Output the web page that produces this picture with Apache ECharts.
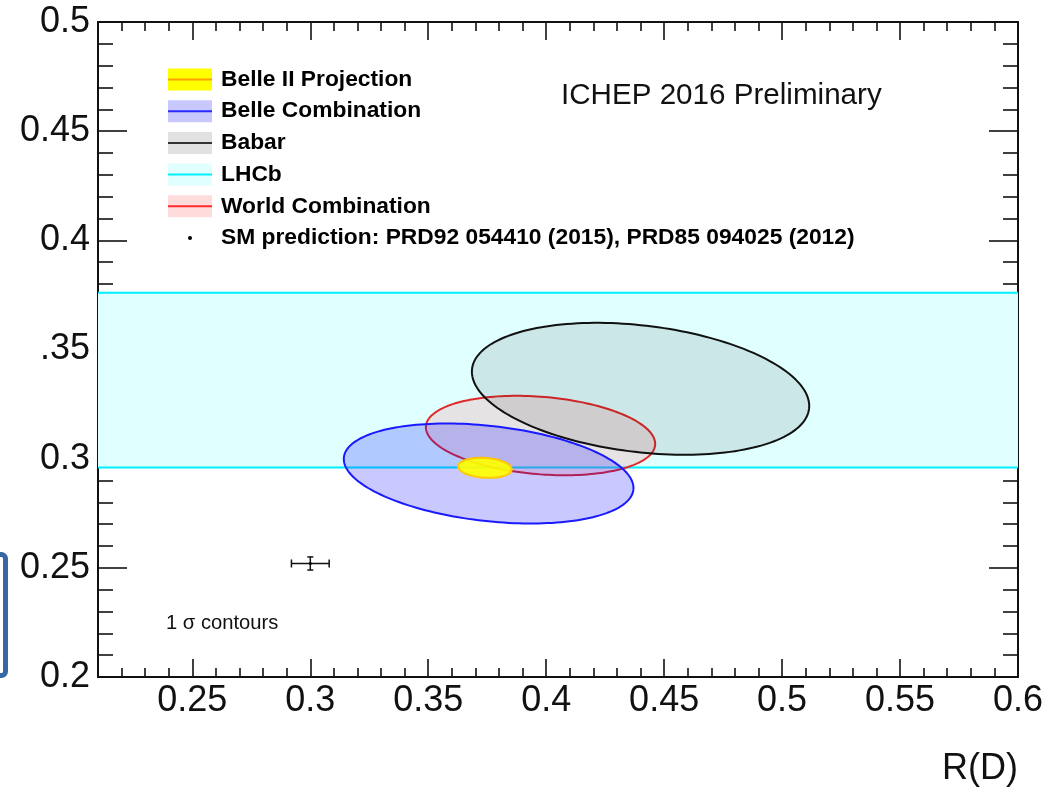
<!DOCTYPE html>
<html>
<head>
<meta charset="utf-8">
<script src="https://cdn.jsdelivr.net/npm/echarts@6/dist/echarts.min.js"></script>
<style>
  html, body { margin: 0; padding: 0; background: #fff; }
  #chart { width: 1046px; height: 792px; }
</style>
</head>
<body>
<div id="chart"></div>
<script>
// Axis ranges and ticks
const xRange = [0.21, 0.6];
const yRange = [0.2, 0.5];
const xMajorTicks = [0.25, 0.3, 0.35, 0.4, 0.45, 0.5, 0.55, 0.6];
const xTickLabels = ['0.25', '0.3', '0.35', '0.4', '0.45', '0.5', '0.55', '0.6'];
const xMinorTicks = [0.21, 0.22, 0.23, 0.24, 0.26, 0.27, 0.28, 0.29, 0.31, 0.32, 0.33, 0.34,
  0.36, 0.37, 0.38, 0.39, 0.41, 0.42, 0.43, 0.44, 0.46, 0.47, 0.48, 0.49,
  0.51, 0.52, 0.53, 0.54, 0.56, 0.57, 0.58, 0.59];
const yMajorTicks = [0.2, 0.25, 0.3, 0.35, 0.4, 0.45, 0.5];
const yTickLabels = ['0.2', '0.25', '0.3', '.35', '0.4', '0.45', '0.5'];

// LHCb R(D*) band: [low, high]
const lhcbBand = [0.296, 0.376];

// 1 sigma contours: [R(D) centre, R(D*) centre, sigma R(D), sigma R(D*), correlation]
const belle2Projection = [0.374, 0.2958, 0.0114, 0.0046, -0.15];
const belleCombination = [0.3756, 0.2932, 0.0614, 0.0229, -0.29];
const babar = [0.440, 0.332, 0.0715, 0.0302, -0.26];
const worldCombination = [0.3976, 0.3106, 0.0486, 0.0182, -0.21];

// SM prediction: [R(D), R(D*), error R(D), error R(D*)]
const smPrediction = [0.300, 0.252, 0.008, 0.003];

const legendNames = ['Belle II Projection', 'Belle Combination', 'Babar', 'LHCb',
  'World Combination', 'SM prediction: PRD92 054410 (2015), PRD85 094025 (2012)'];

function labelFrom(ticks, labels) {
  return function (v) {
    let best = 0;
    for (let i = 1; i < ticks.length; i++) {
      if (Math.abs(ticks[i] - v) < Math.abs(ticks[best] - v)) best = i;
    }
    return labels[best];
  };
}

// Contour of a correlated 2D Gaussian at one sigma
function contourSeries(params, fill, stroke, width, z) {
  return {
    type: 'custom',
    xAxisIndex: 0,
    yAxisIndex: 0,
    z: z,
    clip: true,
    data: [params],
    renderItem: function (p, api) {
      const cx = api.value(0), cy = api.value(1);
      const sx = api.value(2), sy = api.value(3), rho = api.value(4);
      const k = Math.sqrt(1 - rho * rho);
      const pts = [];
      const n = 180;
      for (let i = 0; i < n; i++) {
        const t = 2 * Math.PI * i / n;
        pts.push(api.coord([cx + sx * Math.cos(t),
          cy + sy * (rho * Math.cos(t) + k * Math.sin(t))]));
      }
      return {
        type: 'polygon',
        shape: { points: pts },
        style: { fill: fill, stroke: stroke, lineWidth: width }
      };
    }
  };
}

const font = '"Liberation Sans", Arial, Helvetica, sans-serif';
const axisColor = '#111';

function xAxisDef(position, ticks, len, withLine, withLabels) {
  return {
    type: 'value', gridIndex: 0, position: position,
    min: xRange[0], max: xRange[1],
    axisLine: { show: withLine, onZero: false, lineStyle: { color: axisColor, width: 2 } },
    axisTick: { show: true, inside: true, length: len, customValues: ticks,
      lineStyle: { color: axisColor, width: 1.6 } },
    axisLabel: withLabels ? {
      show: true, customValues: ticks, formatter: labelFrom(xMajorTicks, xTickLabels),
      fontFamily: font, fontSize: 36, color: '#111', margin: 6
    } : { show: false },
    splitLine: { show: false }
  };
}

function yAxisDef(position, withLabels) {
  return {
    type: 'value', gridIndex: 0, position: position,
    min: yRange[0], max: yRange[1], interval: 0.05,
    axisLine: { show: true, onZero: false, lineStyle: { color: axisColor, width: 2 } },
    axisTick: { show: true, inside: true, length: 29, lineStyle: { color: axisColor, width: 1.6 } },
    minorTick: { show: true, splitNumber: 5, length: 15, lineStyle: { color: axisColor, width: 1.6 } },
    axisLabel: withLabels ? {
      show: true, formatter: labelFrom(yMajorTicks, yTickLabels),
      fontFamily: font, fontSize: 36, color: '#111', margin: 8
    } : { show: false },
    splitLine: { show: false },
    minorSplitLine: { show: false }
  };
}

// Legend drawn as boxes with a centre line, as in the plot style
const legendStyles = [
  { box: '#ffff00', line: '#ffa000' },
  { box: '#c8c8ff', line: '#2a2aff' },
  { box: '#e1e1e1', line: '#333333' },
  { box: '#e0ffff', line: '#00f0ff' },
  { box: '#ffdcdc', line: '#ff2a2a' },
  null
];
const legendGraphics = [];
legendNames.forEach(function (name, i) {
  const cy = 79.5 + i * 31.7;
  const st = legendStyles[i];
  if (st) {
    legendGraphics.push({ type: 'rect', shape: { x: 168, y: cy - 11, width: 44, height: 22 },
      style: { fill: st.box } });
    legendGraphics.push({ type: 'line', shape: { x1: 168, y1: cy, x2: 212, y2: cy },
      style: { stroke: st.line, lineWidth: 2 } });
  } else {
    legendGraphics.push({ type: 'circle', shape: { cx: 190, cy: cy, r: 2 },
      style: { fill: '#000' } });
  }
  legendGraphics.push({ type: 'text', x: 221, y: cy,
    style: { text: name, font: 'bold 22.8px ' + font, fill: '#000', verticalAlign: 'middle', align: 'left' } });
});

const chart = echarts.init(document.getElementById('chart'), null, { renderer: 'canvas' });
chart.setOption({
  animation: false,
  backgroundColor: '#fff',
  grid: { left: 98, right: 28, top: 22, bottom: 115, containLabel: false },
  xAxis: [
    xAxisDef('bottom', xMajorTicks, 18, true, true),
    xAxisDef('bottom', xMinorTicks, 9, false, false),
    xAxisDef('top', xMajorTicks, 18, true, false),
    xAxisDef('top', xMinorTicks, 9, false, false)
  ],
  yAxis: [yAxisDef('left', true), yAxisDef('right', false)],
  series: [
    {
      // LHCb band
      type: 'custom', xAxisIndex: 0, yAxisIndex: 0, z: 1, clip: true,
      data: [lhcbBand],
      renderItem: function (p, api) {
        const lo = api.value(0), hi = api.value(1);
        const a = api.coord([xRange[0], hi]);
        const b = api.coord([xRange[1], lo]);
        return {
          type: 'group',
          children: [
            { type: 'rect', shape: { x: a[0], y: a[1], width: b[0] - a[0], height: b[1] - a[1] },
              style: { fill: '#e0ffff' } },
            { type: 'line', shape: { x1: a[0], y1: a[1], x2: b[0], y2: a[1] },
              style: { stroke: '#00f0ff', lineWidth: 2 } },
            { type: 'line', shape: { x1: a[0], y1: b[1], x2: b[0], y2: b[1] },
              style: { stroke: '#00f0ff', lineWidth: 2 } }
          ]
        };
      }
    },
    contourSeries(worldCombination, 'rgba(255,105,115,0.19)', '#e02a2a', 2, 2),
    contourSeries(babar, 'rgba(0,0,0,0.095)', '#111111', 2, 3),
    contourSeries(belleCombination, 'rgba(0,0,255,0.21)', '#1a1aff', 2, 4),
    contourSeries(belle2Projection, 'rgba(255,255,0,0.92)', '#ffc800', 2, 5),
    {
      // SM prediction with error bars
      type: 'custom', xAxisIndex: 0, yAxisIndex: 0, z: 6, clip: true,
      data: [smPrediction],
      renderItem: function (p, api) {
        const x = api.value(0), y = api.value(1), ex = api.value(2), ey = api.value(3);
        const c = api.coord([x, y]);
        const l = api.coord([x - ex, y]), r = api.coord([x + ex, y]);
        const t = api.coord([x, y + ey]), b = api.coord([x, y - ey]);
        const st = { stroke: '#111', lineWidth: 1.5 };
        return {
          type: 'group',
          children: [
            { type: 'line', shape: { x1: l[0], y1: c[1], x2: r[0], y2: c[1] }, style: st },
            { type: 'line', shape: { x1: l[0], y1: c[1] - 4, x2: l[0], y2: c[1] + 4 }, style: st },
            { type: 'line', shape: { x1: r[0], y1: c[1] - 4, x2: r[0], y2: c[1] + 4 }, style: st },
            { type: 'line', shape: { x1: c[0], y1: t[1], x2: c[0], y2: b[1] }, style: st },
            { type: 'line', shape: { x1: c[0] - 3, y1: t[1], x2: c[0] + 3, y2: t[1] }, style: st },
            { type: 'line', shape: { x1: c[0] - 3, y1: b[1], x2: c[0] + 3, y2: b[1] }, style: st },
            { type: 'circle', shape: { cx: c[0], cy: c[1], r: 1.5 }, style: { fill: '#000' } }
          ]
        };
      }
    }
  ],
  graphic: legendGraphics.concat([
    { type: 'text', x: 561, y: 96,
      style: { text: 'ICHEP 2016 Preliminary', font: '29.6px ' + font, fill: '#111', verticalAlign: 'middle' } },
    { type: 'text', x: 166, y: 623,
      style: { text: '1 σ contours', font: '20.2px ' + font, fill: '#111', verticalAlign: 'middle' } },
    { type: 'text', x: 1018, y: 769,
      style: { text: 'R(D)', font: '36px ' + font, fill: '#111', align: 'right', verticalAlign: 'middle' } },
    { type: 'rect', shape: { x: -22, y: 554.5, width: 27.5, height: 121, r: 4 },
      style: { fill: 'none', stroke: '#3867a8', lineWidth: 5 } }
  ])
});
</script>
</body>
</html>
